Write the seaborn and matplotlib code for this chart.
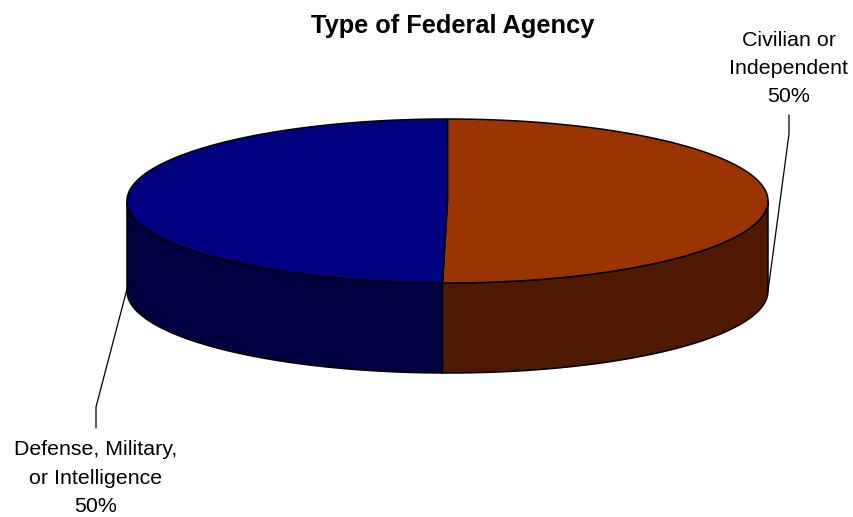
import numpy as np
import matplotlib.pyplot as plt
import seaborn as sns

# fatias, em sentido horario a partir do topo
categorias = ["Civilian or\nIndependent", "Defense, Military,\nor Intelligence"]
valores = [50.25, 49.75]
rotulos = ["50%", "50%"]

CORES_TOPO = ["#993300", "#000080"]
CORES_LADO = ["#4D1A00", "#000040"]

# geometria do disco em pixels
CX, CY = 447.5, 201
RX, RY = 320.5, 82
ALTURA = 90

sns.set_theme(style="white")
plt.rcParams["font.family"] = ["Liberation Sans", "DejaVu Sans"]

fig = plt.figure(figsize=(8.54, 5.17), dpi=100)
ax = fig.add_axes([0, 0, 1, 1])
ax.set_xlim(0, 854)
ax.set_ylim(517, 0)
ax.axis("off")


def borda(theta):
    return CX + RX * np.sin(theta), CY - RY * np.cos(theta)


fracoes = np.array(valores) / sum(valores)
limites = np.concatenate([[0], np.cumsum(fracoes)]) * 2 * np.pi

# paredes laterais (so a metade da frente aparece)
for i in range(len(valores)):
    ini = max(limites[i], np.pi / 2)
    fim = min(limites[i + 1], 3 * np.pi / 2)
    t = np.linspace(ini, fim, 200)
    x, y = borda(t)
    ax.fill(np.r_[x, x[::-1]], np.r_[y, y[::-1] + ALTURA],
            facecolor=CORES_LADO[i], edgecolor="black", linewidth=1.1, zorder=2)

# tampa
for i in range(len(valores)):
    t = np.linspace(limites[i], limites[i + 1], 300)
    x, y = borda(t)
    ax.fill(np.r_[CX, x], np.r_[CY, y],
            facecolor=CORES_TOPO[i], edgecolor="black", linewidth=1.1,
            joinstyle="round", zorder=3)

# linhas de chamada
ax.plot([789, 789, 768], [115, 134, 291], color="black", lw=0.9, zorder=1)
ax.plot([96, 96, 127], [428, 407, 289], color="black", lw=0.9, zorder=1)

ax.text(453, 26, "Type of Federal Agency", ha="center", va="center",
        fontsize=18.3, fontweight="bold", color="black")
ax.text(789, 68.5, f"{categorias[0]}\n{rotulos[0]}", ha="center", va="center",
        fontsize=15.4, color="black", linespacing=1.62)
ax.text(96, 478, f"{categorias[1]}\n{rotulos[1]}", ha="center", va="center",
        fontsize=15.4, color="black", linespacing=1.62)

fig.savefig("out.png", dpi=100, facecolor="white")
